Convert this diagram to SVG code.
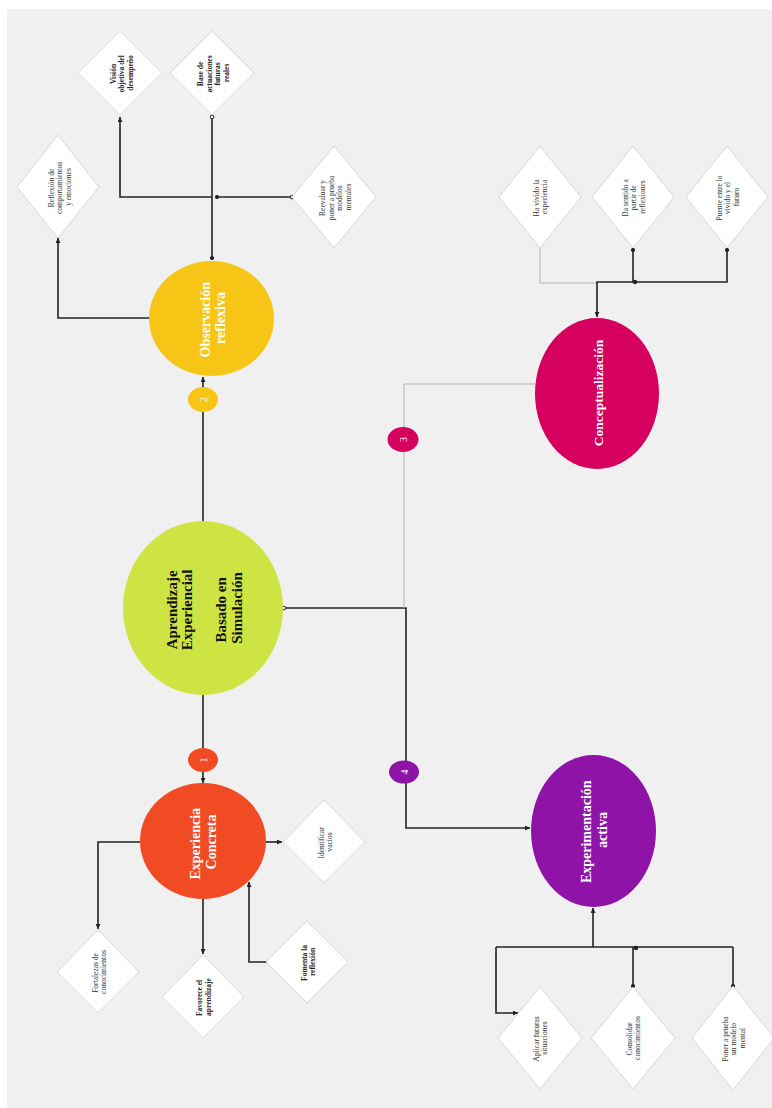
<svg xmlns="http://www.w3.org/2000/svg" width="772" height="1108" viewBox="0 0 772 1108">
  <style>
    .bg { fill: #f0f0f0; }
    .dia { fill: #ffffff; stroke: #cfcfcf; stroke-width: 0.8; }
    .dtx { font-family: "Liberation Serif", "Times New Roman", serif; font-size: 7.5px; fill: #333333; text-anchor: middle; dominant-baseline: central; }
    .dtx.b { font-weight: bold; fill: #222222; }
    .ntx { font-family: "Liberation Serif", "Times New Roman", serif; font-weight: bold; font-size: 14px; fill: #ffffff; text-anchor: middle; dominant-baseline: central; }
    .ctx { font-family: "Liberation Serif", "Times New Roman", serif; font-weight: bold; font-size: 15px; fill: #111111; text-anchor: middle; dominant-baseline: central; }
    .btx { font-family: "Liberation Serif", "Times New Roman", serif; font-size: 10px; fill: #ffffff; text-anchor: middle; dominant-baseline: central; }
    .ln { fill: none; stroke: #222222; stroke-width: 1.6; }
    .gl { fill: none; stroke: #b4b4b4; stroke-width: 1; }
  </style>
  <defs>
    <marker id="arrow" viewBox="0 0 10 10" refX="10" refY="5" markerWidth="5" markerHeight="5" markerUnits="userSpaceOnUse" orient="auto">
      <path d="M0,0 L10,5 L0,10 z" fill="#222222"/>
    </marker>
    <marker id="dot" viewBox="0 0 10 10" refX="5" refY="5" markerWidth="4.5" markerHeight="4.5" markerUnits="userSpaceOnUse">
      <circle cx="5" cy="5" r="4.5" fill="#222222"/>
    </marker>
    <marker id="ring" viewBox="0 0 10 10" refX="5" refY="5" markerWidth="5" markerHeight="5" markerUnits="userSpaceOnUse">
      <circle cx="5" cy="5" r="3.8" fill="#f0f0f0" stroke="#222222" stroke-width="2"/>
    </marker>
  </defs>

  <rect width="772" height="1108" fill="#ffffff"/>
  <rect class="bg" x="7" y="9" width="765" height="1099"/>

  <!-- connectors -->
  <g id="connectors">
    <!-- center to Observación reflexiva -->
    <path class="ln" d="M203,521 V412"/>
    <path class="ln" d="M203,387 V377" marker-end="url(#arrow)"/>
    <!-- Observación branches -->
    <path class="ln" d="M212,258 V117" stroke-width="2" marker-start="url(#dot)" marker-end="url(#ring)"/>
    <path class="ln" d="M212,197 H120 V117" marker-end="url(#arrow)"/>
    <path class="ln" d="M292,197 H217" marker-start="url(#ring)" marker-end="url(#dot)"/>
    <path class="ln" d="M149,318 H58 V238" marker-end="url(#arrow)"/>
    <!-- center to Experimentación activa -->
    <path class="ln" d="M284,608 H406 V828 H530" marker-start="url(#ring)" marker-end="url(#arrow)"/>
    <!-- center to Conceptualización -->
    <path class="gl" d="M404,608 V384 H535"/>
    <!-- center to Experiencia Concreta -->
    <path class="ln" d="M203,695 V748"/>
    <path class="ln" d="M203,772 V783" marker-end="url(#arrow)"/>
    <!-- Experiencia Concreta branches -->
    <path class="ln" d="M140,842 H98 V929" marker-end="url(#arrow)"/>
    <path class="ln" d="M203,899 V954" marker-end="url(#arrow)"/>
    <path class="ln" d="M266,842 H282" marker-end="url(#arrow)"/>
    <path class="ln" d="M267,962 H249 V882" marker-end="url(#arrow)"/>
    <!-- Experimentación activa branches -->
    <path class="ln" d="M593,947 V908" marker-end="url(#arrow)"/>
    <path class="ln" d="M496,947 H733"/>
    <path class="ln" d="M496,947 V1013 H518" marker-end="url(#arrow)"/>
    <path class="ln" d="M633,947 V986" marker-end="url(#dot)"/>
    <path class="ln" d="M733,947 V986" marker-end="url(#dot)"/>
    <circle cx="636" cy="948" r="2.2" fill="#222222"/>
    <!-- Conceptualización branches -->
    <path class="gl" d="M540,248 V283 H597"/>
    <path class="ln" d="M633,250 V282" marker-start="url(#dot)"/>
    <path class="ln" d="M727,250 V282 H597 V317" marker-start="url(#dot)" marker-end="url(#arrow)"/>
    <circle cx="635" cy="282" r="2.2" fill="#222222"/>
  </g>

  <!-- central node -->
  <g id="central">
    <ellipse cx="203" cy="608" rx="80" ry="87" fill="#cde443"/>
    <text class="ctx" transform="translate(203,608) rotate(-90)">
      <tspan x="0" y="-31">Aprendizaje</tspan>
      <tspan x="0" y="-16">Experiencial</tspan>
      <tspan x="0" y="18">Basado en</tspan>
      <tspan x="0" y="34">Simulación</tspan>
    </text>
  </g>

  <!-- stage nodes -->
  <g id="experiencia-concreta">
    <ellipse cx="203" cy="841" rx="63" ry="58" fill="#f04b23"/>
    <text class="ntx" transform="translate(203,842) rotate(-90)">
      <tspan x="0" y="-8">Experiencia</tspan>
      <tspan x="0" y="8">Concreta</tspan>
    </text>
  </g>
  <g id="observacion-reflexiva">
    <ellipse cx="211.5" cy="318.5" rx="62.5" ry="57.5" fill="#f6c515"/>
    <text class="ntx" transform="translate(212,318) rotate(-90)">
      <tspan x="0" y="-7">Observación</tspan>
      <tspan x="0" y="8">reflexiva</tspan>
    </text>
  </g>
  <g id="conceptualizacion">
    <ellipse cx="597" cy="393.5" rx="62" ry="75.5" fill="#d6005e"/>
    <text class="ntx" font-size="13.5" style="font-size:13.5px" transform="translate(598,393) rotate(-90)">Conceptualización</text>
  </g>
  <g id="experimentacion-activa">
    <ellipse cx="593.5" cy="831" rx="62.5" ry="76" fill="#9013a8"/>
    <text class="ntx" transform="translate(594,830) rotate(-90)">
      <tspan x="0" y="-8">Experimentación</tspan>
      <tspan x="0" y="8">activa</tspan>
    </text>
  </g>

  <!-- step badges -->
  <g id="badge-1">
    <ellipse cx="203" cy="760" rx="15" ry="12" fill="#f04b23"/>
    <text class="btx" transform="translate(203,760) rotate(-90)">1</text>
  </g>
  <g id="badge-2">
    <ellipse cx="203" cy="399.5" rx="15" ry="12.5" fill="#f6c515"/>
    <text class="btx" transform="translate(203,399.5) rotate(-90)">2</text>
  </g>
  <g id="badge-3">
    <ellipse cx="403" cy="439.5" rx="15.5" ry="12.5" fill="#d6005e"/>
    <text class="btx" transform="translate(403,439.5) rotate(-90)">3</text>
  </g>
  <g id="badge-4">
    <ellipse cx="404" cy="772" rx="15" ry="11.5" fill="#9013a8"/>
    <text class="btx" transform="translate(404,772) rotate(-90)">4</text>
  </g>

  <!-- detail diamonds -->
  <g id="d-vision">
    <polygon class="dia" points="120,31 162,73 120,115 78,73"/>
    <text class="dtx b" transform="translate(121,73) rotate(-90)">
      <tspan x="0" y="-8.5">Visión</tspan>
      <tspan x="0" y="0">objetiva del</tspan>
      <tspan x="0" y="8.5">desempeño</tspan>
    </text>
  </g>
  <g id="d-base">
    <polygon class="dia" points="212,31 254,73 212,115 170,73"/>
    <text class="dtx b" transform="translate(213,73) rotate(-90)">
      <tspan x="0" y="-12.75">Base de</tspan>
      <tspan x="0" y="-4.25">actuaciones</tspan>
      <tspan x="0" y="4.25">futuras</tspan>
      <tspan x="0" y="12.75">reales</tspan>
    </text>
  </g>
  <g id="d-reflexion">
    <polygon class="dia" points="58,135 99,187 58,238 17,187"/>
    <text class="dtx" transform="translate(59,187) rotate(-90)">
      <tspan x="0" y="-8.5">Reflexión de</tspan>
      <tspan x="0" y="0">comportamientos</tspan>
      <tspan x="0" y="8.5">y emociones</tspan>
    </text>
  </g>
  <g id="d-reevaluar">
    <polygon class="dia" points="334,146 376,197 334,248 292,197"/>
    <text class="dtx" transform="translate(335,197) rotate(-90)">
      <tspan x="0" y="-12.75">Reevaluar y</tspan>
      <tspan x="0" y="-4.25">poner a prueba</tspan>
      <tspan x="0" y="4.25">modelos</tspan>
      <tspan x="0" y="12.75">mentales</tspan>
    </text>
  </g>
  <g id="d-ha-vivido">
    <polygon class="dia" points="540,146 581,197 540,248 499,197"/>
    <text class="dtx" transform="translate(540,197) rotate(-90)">
      <tspan x="0" y="-4.25">Ha vivido la</tspan>
      <tspan x="0" y="4.25">experiencia</tspan>
    </text>
  </g>
  <g id="d-da-sentido">
    <polygon class="dia" points="633,146 674,197 633,248 592,197"/>
    <text class="dtx" transform="translate(633,197) rotate(-90)">
      <tspan x="0" y="-8.5">Da sentido a</tspan>
      <tspan x="0" y="0">partir de</tspan>
      <tspan x="0" y="8.5">reflexiones</tspan>
    </text>
  </g>
  <g id="d-puente">
    <polygon class="dia" points="727,146 768,197 727,248 686,197"/>
    <text class="dtx" transform="translate(727,197) rotate(-90)">
      <tspan x="0" y="-8.5">Puente entre lo</tspan>
      <tspan x="0" y="0">vivido y el</tspan>
      <tspan x="0" y="8.5">futuro</tspan>
    </text>
  </g>
  <g id="d-fortalezas">
    <polygon class="dia" points="98,930 139,972 98,1013 57,972"/>
    <text class="dtx" transform="translate(99,972) rotate(-90)">
      <tspan x="0" y="-4.25">Fortalezas de</tspan>
      <tspan x="0" y="4.25">conocimientos</tspan>
    </text>
  </g>
  <g id="d-favorece">
    <polygon class="dia" points="203,955 244,997 203,1038 162,997"/>
    <text class="dtx b" transform="translate(203.5,997) rotate(-90)">
      <tspan x="0" y="-4.25">Favorece el</tspan>
      <tspan x="0" y="4.25">aprendizaje</tspan>
    </text>
  </g>
  <g id="d-fomenta">
    <polygon class="dia" points="307,921 348,962 307,1003 266,962"/>
    <text class="dtx b" transform="translate(308,962) rotate(-90)">
      <tspan x="0" y="-4.25">Fomenta la</tspan>
      <tspan x="0" y="4.25">reflexión</tspan>
    </text>
  </g>
  <g id="d-identificar">
    <polygon class="dia" points="324,800 365,842 324,883 283,842"/>
    <text class="dtx" transform="translate(325,842) rotate(-90)">
      <tspan x="0" y="-4.25">Identificar</tspan>
      <tspan x="0" y="4.25">vacíos</tspan>
    </text>
  </g>
  <g id="d-aplicar">
    <polygon class="dia" points="540,987 582,1038 540,1089 498,1038"/>
    <text class="dtx" transform="translate(540,1038) rotate(-90)">
      <tspan x="0" y="-4.25">Aplicar futuras</tspan>
      <tspan x="0" y="4.25">situaciones</tspan>
    </text>
  </g>
  <g id="d-consolidar">
    <polygon class="dia" points="633,987 675,1038 633,1089 591,1038"/>
    <text class="dtx" transform="translate(633,1038) rotate(-90)">
      <tspan x="0" y="-4.25">Consolidar</tspan>
      <tspan x="0" y="4.25">conocimientos</tspan>
    </text>
  </g>
  <g id="d-poner">
    <polygon class="dia" points="733,986 774,1038 733,1090 692,1038"/>
    <text class="dtx" transform="translate(733,1038) rotate(-90)">
      <tspan x="0" y="-8.5">Poner a prueba</tspan>
      <tspan x="0" y="0">un modelo</tspan>
      <tspan x="0" y="8.5">mental</tspan>
    </text>
  </g>
</svg>
